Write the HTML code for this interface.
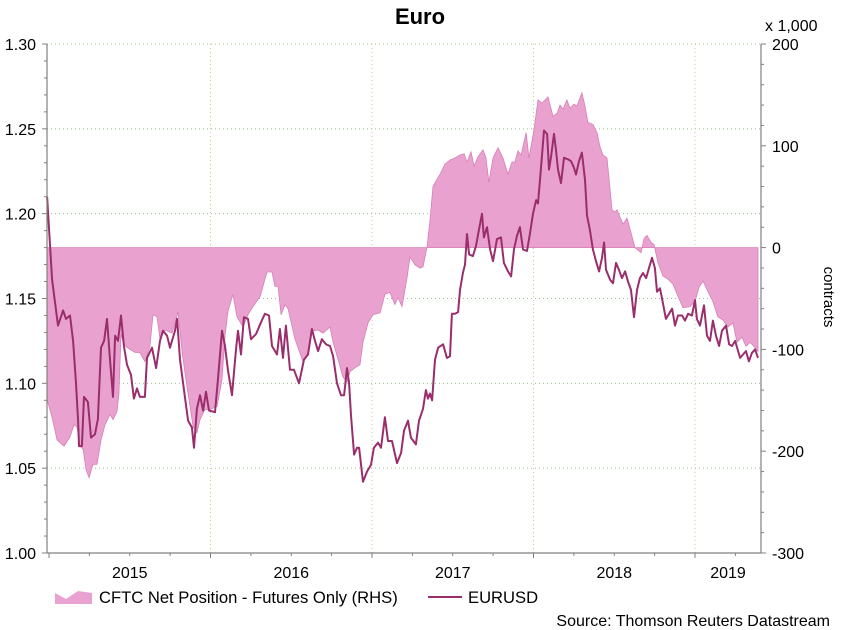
<!DOCTYPE html>
<html><head><meta charset="utf-8"><style>
html,body{margin:0;padding:0;background:#fff;}
svg{display:block;font-family:"Liberation Sans",Arial,sans-serif;}
</style></head><body>
<svg id="chart" width="841" height="630" viewBox="0 0 841 630" xmlns="http://www.w3.org/2000/svg">
<text x="420" y="24" text-anchor="middle" font-size="22" font-weight="bold" fill="#000">Euro</text>
<text x="765" y="31" font-size="16" fill="#000">x 1,000</text>
<text x="0" y="0" font-size="15" fill="#000" transform="translate(824,297) rotate(90)" text-anchor="middle">contracts</text>
<g id="grid"></g>
<g id="area"></g>
<g id="line"></g>
<g id="axes"></g>
<g>
  <g>
    <path d="M55,593 L66,599 L78,591 L92,593 L92,604 L55,604 Z" fill="#e9a2d0"/>
    <text x="99" y="603" font-size="16.6" fill="#000">CFTC Net Position - Futures Only (RHS)</text>
  </g>
  <g>
    <line x1="428" y1="597" x2="462" y2="597" stroke="#9a2e6c" stroke-width="2"/>
    <text x="468" y="603" font-size="16.6" fill="#000">EURUSD</text>
  </g>
</g>
<text x="830" y="626" text-anchor="end" font-size="16" fill="#000">Source: Thomson Reuters Datastream</text>
</svg>
<script>
const usdDates=[2014.988,2015.019,2015.056,2015.087,2015.105,2015.130,2015.149,2015.167,2015.180,2015.186,2015.204,2015.217,2015.241,2015.260,2015.285,2015.303,2015.322,2015.341,2015.359,2015.378,2015.396,2015.409,2015.427,2015.446,2015.464,2015.483,2015.508,2015.526,2015.545,2015.563,2015.594,2015.607,2015.638,2015.663,2015.687,2015.706,2015.731,2015.749,2015.780,2015.793,2015.811,2015.836,2015.861,2015.885,2015.898,2015.916,2015.935,2015.954,2015.972,2015.991,2016.028,2016.046,2016.071,2016.090,2016.108,2016.133,2016.158,2016.170,2016.189,2016.207,2016.232,2016.251,2016.282,2016.313,2016.337,2016.362,2016.381,2016.412,2016.430,2016.449,2016.467,2016.492,2016.517,2016.548,2016.579,2016.604,2016.628,2016.647,2016.666,2016.690,2016.715,2016.740,2016.759,2016.783,2016.808,2016.827,2016.845,2016.858,2016.870,2016.889,2016.907,2016.920,2016.944,2016.969,2016.994,2017.012,2017.037,2017.056,2017.080,2017.099,2017.124,2017.155,2017.180,2017.198,2017.223,2017.241,2017.272,2017.291,2017.316,2017.334,2017.347,2017.359,2017.372,2017.390,2017.409,2017.440,2017.464,2017.483,2017.495,2017.514,2017.533,2017.545,2017.563,2017.576,2017.588,2017.601,2017.625,2017.644,2017.663,2017.681,2017.693,2017.712,2017.731,2017.749,2017.774,2017.799,2017.817,2017.842,2017.861,2017.879,2017.898,2017.916,2017.935,2017.960,2017.978,2017.997,2018.016,2018.028,2018.040,2018.053,2018.065,2018.084,2018.096,2018.108,2018.127,2018.139,2018.152,2018.170,2018.189,2018.214,2018.232,2018.251,2018.263,2018.282,2018.300,2018.319,2018.331,2018.350,2018.368,2018.387,2018.406,2018.424,2018.437,2018.449,2018.474,2018.492,2018.511,2018.529,2018.548,2018.567,2018.585,2018.604,2018.622,2018.641,2018.659,2018.678,2018.697,2018.715,2018.734,2018.752,2018.765,2018.783,2018.802,2018.820,2018.839,2018.858,2018.876,2018.895,2018.920,2018.938,2018.957,2018.981,2019.000,2019.012,2019.031,2019.056,2019.074,2019.093,2019.111,2019.130,2019.149,2019.167,2019.192,2019.211,2019.229,2019.248,2019.279,2019.297,2019.316,2019.334,2019.353,2019.372,2019.390];
const usdValues=[1.210,1.161,1.134,1.143,1.138,1.140,1.125,1.100,1.078,1.063,1.063,1.092,1.089,1.068,1.070,1.079,1.121,1.125,1.138,1.114,1.092,1.128,1.125,1.140,1.122,1.111,1.105,1.091,1.097,1.092,1.092,1.115,1.121,1.109,1.125,1.131,1.128,1.121,1.131,1.138,1.114,1.096,1.078,1.074,1.062,1.085,1.093,1.084,1.095,1.084,1.083,1.102,1.131,1.122,1.108,1.093,1.120,1.131,1.117,1.139,1.138,1.126,1.129,1.136,1.141,1.140,1.122,1.117,1.132,1.115,1.134,1.108,1.108,1.100,1.114,1.117,1.132,1.125,1.119,1.126,1.123,1.122,1.116,1.100,1.093,1.093,1.109,1.100,1.081,1.058,1.062,1.062,1.042,1.048,1.052,1.062,1.065,1.062,1.080,1.066,1.066,1.053,1.059,1.072,1.078,1.068,1.064,1.078,1.085,1.096,1.091,1.094,1.090,1.114,1.121,1.123,1.115,1.116,1.141,1.141,1.142,1.155,1.165,1.170,1.188,1.176,1.175,1.181,1.191,1.200,1.186,1.192,1.179,1.172,1.185,1.186,1.171,1.166,1.163,1.179,1.187,1.192,1.179,1.178,1.188,1.200,1.208,1.206,1.220,1.235,1.249,1.247,1.226,1.233,1.247,1.238,1.226,1.218,1.233,1.232,1.231,1.227,1.223,1.231,1.236,1.220,1.199,1.190,1.179,1.172,1.166,1.174,1.183,1.167,1.161,1.159,1.171,1.167,1.162,1.166,1.160,1.155,1.139,1.155,1.162,1.165,1.162,1.168,1.174,1.168,1.154,1.156,1.147,1.138,1.141,1.144,1.134,1.140,1.140,1.137,1.141,1.140,1.149,1.138,1.134,1.146,1.128,1.125,1.137,1.128,1.122,1.131,1.134,1.123,1.122,1.125,1.115,1.117,1.119,1.113,1.118,1.120,1.115];
const cftcDates=[2014.988,2015.019,2015.050,2015.093,2015.130,2015.155,2015.173,2015.192,2015.211,2015.229,2015.248,2015.272,2015.297,2015.322,2015.347,2015.378,2015.396,2015.421,2015.433,2015.446,2015.464,2015.483,2015.533,2015.563,2015.594,2015.625,2015.644,2015.669,2015.687,2015.718,2015.762,2015.786,2015.799,2015.824,2015.854,2015.892,2015.916,2015.935,2015.966,2015.997,2016.040,2016.071,2016.090,2016.108,2016.139,2016.164,2016.201,2016.232,2016.263,2016.307,2016.350,2016.381,2016.399,2016.418,2016.437,2016.461,2016.480,2016.523,2016.573,2016.604,2016.628,2016.666,2016.697,2016.740,2016.759,2016.790,2016.820,2016.845,2016.864,2016.895,2016.926,2016.944,2016.975,2017.006,2017.050,2017.080,2017.111,2017.142,2017.161,2017.186,2017.217,2017.235,2017.266,2017.297,2017.316,2017.341,2017.359,2017.378,2017.402,2017.421,2017.452,2017.483,2017.514,2017.545,2017.570,2017.588,2017.613,2017.632,2017.656,2017.687,2017.706,2017.724,2017.749,2017.780,2017.811,2017.842,2017.867,2017.885,2017.904,2017.923,2017.954,2017.972,2018.003,2018.028,2018.053,2018.090,2018.121,2018.146,2018.164,2018.183,2018.207,2018.226,2018.251,2018.269,2018.300,2018.319,2018.337,2018.368,2018.393,2018.412,2018.430,2018.455,2018.486,2018.505,2018.517,2018.554,2018.579,2018.610,2018.628,2018.666,2018.684,2018.703,2018.728,2018.746,2018.771,2018.802,2018.833,2018.864,2018.895,2018.926,2018.969,2019.000,2019.025,2019.050,2019.080,2019.111,2019.142,2019.173,2019.204,2019.235,2019.260,2019.291,2019.316,2019.341,2019.359,2019.390];
const cftcValues=[-149,-167,-189,-195,-186,-174,-176,-195,-198,-218,-226,-213,-213,-189,-174,-164,-169,-161,-144,-85,-95,-98,-103,-103,-112,-97,-66,-68,-90,-81,-84,-71,-63,-103,-136,-176,-182,-169,-159,-159,-156,-130,-87,-63,-46,-68,-78,-66,-58,-48,-24,-24,-38,-38,-66,-56,-60,-90,-112,-103,-82,-81,-84,-78,-93,-110,-127,-132,-122,-118,-115,-93,-74,-66,-64,-46,-44,-56,-49,-58,-30,-9,-17,-20,-19,1,27,60,67,72,82,86,88,91,92,84,94,80,89,96,88,64,88,98,88,72,84,84,95,91,113,88,116,145,142,148,129,132,140,136,145,137,141,139,152,139,123,121,113,99,91,88,37,35,37,23,29,11,0,-5,9,12,5,3,-15,-28,-31,-36,-48,-59,-58,-53,-39,-33,-43,-53,-68,-71,-78,-74,-93,-88,-97,-93,-96,-102];
const leftTicks=["1.00","1.05","1.10","1.15","1.20","1.25","1.30"];
const rightTicks=["-300","-200","-100","0","100","200"];
const yearLabels=["2015","2016","2017","2018","2019"];

const X0=47,X1=761,Y0=44,Y1=553;
const PXY=161.5;
function xs(t){return 49+(t-2015)*PXY;}
function yl(v){return Y1-(v-1.00)/0.30*(Y1-Y0);}
function yr(v){return Y1-(v+300)/500*(Y1-Y0);}
const NS="http://www.w3.org/2000/svg";
function mk(tag,attrs,parent){const e=document.createElementNS(NS,tag);for(const k in attrs)e.setAttribute(k,attrs[k]);parent.appendChild(e);return e;}
const grid=document.getElementById('grid'),axes=document.getElementById('axes');
leftTicks.forEach(l=>{const y=yl(parseFloat(l));if(y<Y1-1){const g=mk('line',{x1:X0,x2:X1,y1:y,y2:y,stroke:'#98c08a','stroke-width':1,'stroke-dasharray':'1,3'},grid);

}});
[2016,2017,2018,2019].forEach(yr_=>{const x=xs(yr_);const g=mk('line',{x1:x,x2:x,y1:Y0,y2:Y1,stroke:'#c9cf8a','stroke-width':1,'stroke-dasharray':'1,3'},grid);

});
const z=yr(0);
let d='M'+xs(cftcDates[0]).toFixed(1)+','+z;
cftcDates.forEach((t,i)=>{d+=' L'+xs(t).toFixed(1)+','+yr(cftcValues[i]).toFixed(1);});
d+=' L'+xs(cftcDates[cftcDates.length-1]).toFixed(1)+','+z+' Z';
const ar=mk('path',{d:d,fill:'#e9a2d0',stroke:'#d77fb5','stroke-width':0.8},document.getElementById('area'));


let ld='';
usdDates.forEach((t,i)=>{ld+=(i?' L':'M')+xs(t).toFixed(1)+','+yl(usdValues[i]).toFixed(1);});
const ln=mk('path',{d:ld,fill:'none',stroke:'#9a2e6c','stroke-width':2,'stroke-linejoin':'round'},document.getElementById('line'));


const la=mk('line',{x1:X0,x2:X0,y1:Y0,y2:Y1,stroke:'#808080','stroke-width':1.2},axes);


const ra=mk('line',{x1:X1,x2:X1,y1:Y0,y2:Y1,stroke:'#808080','stroke-width':1.2},axes);


const ba=mk('line',{x1:X0,x2:X1,y1:Y1,y2:Y1,stroke:'#808080','stroke-width':1.2},axes);


for(let v=1.00;v<=1.3001;v+=0.01){const y=yl(v);mk('line',{x1:X0-(Math.round(v*100)%5===0?5:3),x2:X0,y1:y,y2:y,stroke:'#808080'},axes);}
leftTicks.forEach(l=>{const t=mk('text',{x:36,y:yl(parseFloat(l))+6,'text-anchor':'end','font-size':16,fill:'#000'},axes);t.textContent=l;

});
for(let v=-300;v<=200;v+=20){const y=yr(v);mk('line',{x1:X1,x2:X1+(v%100===0?5:3),y1:y,y2:y,stroke:'#808080'},axes);}
rightTicks.forEach(l=>{const t=mk('text',{x:772,y:yr(parseFloat(l))+6,'font-size':16,fill:'#000'},axes);t.textContent=l;

});
for(let q=2015;q<=2019.4;q+=0.25){const x=xs(q);if(x>=X0&&x<=X1)mk('line',{x1:x,x2:x,y1:Y1,y2:Y1+(Math.abs(q-Math.round(q))<0.01?5:3),stroke:'#808080'},axes);}
yearLabels.forEach((l,i)=>{const yv=parseFloat(l);const x=Math.min((xs(yv)+xs(yv+1))/2,(xs(yv)+X1)/2);const t=mk('text',{x:x,y:578,'text-anchor':'middle','font-size':16,fill:'#000'},axes);t.textContent=l;

});
</script>
</body></html>
